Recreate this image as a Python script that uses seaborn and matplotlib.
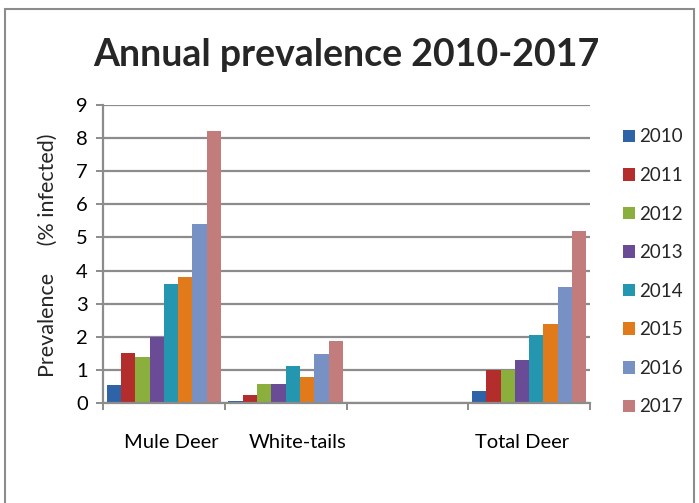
import matplotlib
matplotlib.use("Agg")
import matplotlib.pyplot as plt
import matplotlib.transforms as mtransforms
import seaborn as sns
import pandas as pd
from matplotlib.patches import Rectangle
from matplotlib.ticker import FixedLocator

categories = ["Mule Deer", "White-tails", " ", "Total Deer"]
years = ["2010", "2011", "2012", "2013", "2014", "2015", "2016", "2017"]
mule_deer = [0.55, 1.5, 1.4, 2.0, 3.6, 3.8, 5.4, 8.2]
white_tails = [0.07, 0.23, 0.57, 0.57, 1.11, 0.78, 1.47, 1.88]
total_deer = [0.37, 1.01, 1.01, 1.31, 2.04, 2.38, 3.49, 5.2]
colors = ["#2F63A8", "#B32D2D", "#8AAF3C", "#6A4C96",
          "#2596B0", "#E07A1A", "#7891C4", "#C27C7C"]

rows = []
for name, vals in [("Mule Deer", mule_deer), ("White-tails", white_tails),
                   ("Total Deer", total_deer)]:
    for y, v in zip(years, vals):
        rows.append({"group": name, "year": y, "value": v})
df = pd.DataFrame(rows)

sns.set_style("white")
plt.rcParams["font.family"] = ["Lato", "DejaVu Sans"]

fig = plt.figure(figsize=(6.99, 5.03), dpi=100)
ax = fig.add_axes([103/699, 1-403/503, (590-103)/699, (403-105)/503])

sns.barplot(data=df, x="group", y="value", hue="year", order=categories,
            hue_order=years, palette=colors, ax=ax, width=0.94,
            edgecolor=None, linewidth=0, saturation=1, errorbar=None)

ax.set_ylim(0, 9)
ax.set_xlim(-0.5, 3.5)
ax.set_yticks(range(10))
ax.yaxis.grid(True, color="#8C8C8C", linewidth=1.6)
ax.set_axisbelow(True)
for s in ["top", "right"]:
    ax.spines[s].set_visible(False)
for s in ["left", "bottom"]:
    ax.spines[s].set_color("#8C8C8C")
    ax.spines[s].set_linewidth(1.6)

ax.tick_params(axis="y", which="major", direction="out", length=5,
               width=1.4, color="#8C8C8C", labelsize=14.5, pad=6,
               labelcolor="black", left=True)
ax.xaxis.set_minor_locator(FixedLocator([-0.5, 0.5, 1.5, 2.5, 3.5]))
ax.tick_params(axis="x", which="minor", direction="out", length=5,
               width=1.4, color="#8C8C8C", bottom=True)
ax.tick_params(axis="x", which="major", length=0, pad=22,
               labelsize=14.5, labelcolor="black")

# small horizontal offsets of category labels, as in the reference
offsets_px = [7, 12, 0, -7]
for lab, dx in zip(ax.get_xticklabels(), offsets_px):
    lab.set_transform(lab.get_transform() +
                      mtransforms.ScaledTranslation(dx/100, 0, fig.dpi_scale_trans))

ax.set_xlabel("")
ax.set_ylabel("Prevalence     (% infected)", fontsize=15.5)
ax.yaxis.set_label_coords((58-103)/487, (403-255)/298)

handles, labels = ax.get_legend_handles_labels()
leg = ax.legend(handles, labels, loc="upper left",
                bbox_to_anchor=(615/699, 1-121/503), bbox_transform=fig.transFigure,
                frameon=False, fontsize=13.5, handlelength=0.65, handleheight=0.65,
                handletextpad=0.25, labelspacing=1.15, borderaxespad=0)

fig.text(0.5*(90+603)/699, 1-55/503, "Annual prevalence 2010-2017",
         ha="center", va="center", fontsize=27, fontweight="bold")

fig.patches.append(Rectangle((5/699, -0.05), (694-5)/699, 1-9/503+0.05,
                             transform=fig.transFigure, fill=False,
                             edgecolor="#8C8C8C", linewidth=1.5))

fig.savefig("out.png", dpi=100)
